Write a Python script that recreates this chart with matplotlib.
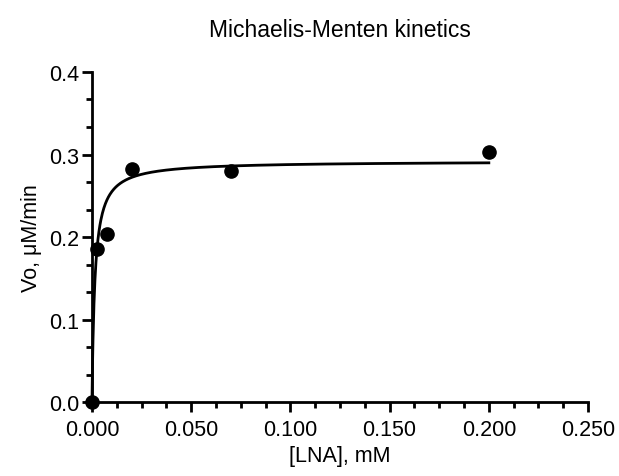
import numpy as np
import matplotlib
matplotlib.use("Agg")
import matplotlib.pyplot as plt
from matplotlib.ticker import MultipleLocator, FormatStrFormatter

# measured points
lna_mM = [0.0, 0.0025, 0.0075, 0.020, 0.070, 0.200]
vo = [0.0, 0.185, 0.204, 0.283, 0.280, 0.303]

# fitted Michaelis-Menten parameters
vmax = 0.292
km = 0.00145

plt.rcParams['font.family'] = ['Liberation Sans', 'DejaVu Sans']

fig = plt.figure(figsize=(6.19, 4.77), dpi=100)
ax = fig.add_axes([0.1486, 0.155, 0.8014, 0.692])

xs = np.linspace(0, max(lna_mM), 800)
ax.plot(xs, vmax * xs / (km + xs), color='black', lw=2, clip_on=False)
ax.plot(lna_mM, vo, 'o', color='black', ms=9.5, clip_on=False, zorder=5)

ax.set_xlim(0, 0.25)
ax.set_ylim(0, 0.4)
ax.xaxis.set_major_locator(MultipleLocator(0.05))
ax.xaxis.set_minor_locator(MultipleLocator(0.0125))
ax.yaxis.set_major_locator(MultipleLocator(0.1))
ax.yaxis.set_minor_locator(MultipleLocator(0.1 / 3))
ax.xaxis.set_major_formatter(FormatStrFormatter('%.3f'))
ax.yaxis.set_major_formatter(FormatStrFormatter('%.1f'))

for side in ('top', 'right'):
    ax.spines[side].set_visible(False)
for side in ('left', 'bottom'):
    ax.spines[side].set_linewidth(2)

ax.tick_params(which='major', direction='out', length=7, width=2, labelsize=15.5)
ax.tick_params(which='minor', direction='out', length=4, width=2)
ax.tick_params(axis='x', which='major', pad=5)
ax.tick_params(axis='y', which='major', pad=2)

ax.set_xlabel('[LNA], mM', fontsize=15.5, labelpad=4)
ax.set_ylabel('Vo, μM/min', fontsize=15.5, labelpad=5)
ax.set_title('Michaelis-Menten kinetics', fontsize=16.5, pad=26)

fig.savefig('out.png', dpi=100)
